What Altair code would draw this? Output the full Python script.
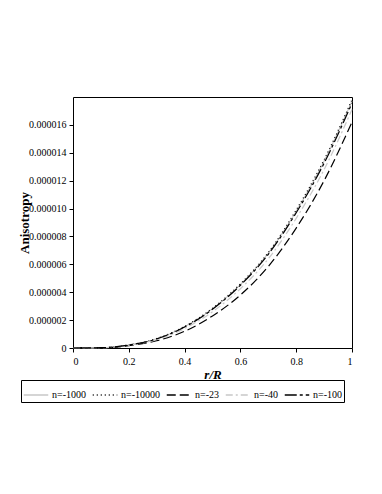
import altair as alt
import pandas as pd

r = [0.0, 0.1, 0.2, 0.3, 0.4, 0.5, 0.6, 0.7, 0.8, 0.9, 1.0]
series_names = ["n=-1000", "n=-10000", "n=-23", "n=-40", "n=-100"]
n1000 = [0, 0.02, 0.22, 0.67, 1.53, 2.82, 4.55, 6.80, 9.80, 13.40, 17.70]
n10000 = [0, 0.02, 0.22, 0.68, 1.55, 2.85, 4.60, 6.85, 9.90, 13.50, 17.80]
n23 = [0, 0.015, 0.17, 0.52, 1.20, 2.30, 3.80, 5.85, 8.60, 12.00, 16.20]
n40 = [0, 0.02, 0.20, 0.60, 1.40, 2.60, 4.25, 6.40, 9.30, 12.80, 17.10]
n100 = [0, 0.02, 0.21, 0.65, 1.50, 2.78, 4.50, 6.72, 9.70, 13.25, 17.55]

vals = {"n=-1000": n1000, "n=-10000": n10000, "n=-23": n23, "n=-40": n40, "n=-100": n100}
rows = []
for name in series_names:
    for x, v in zip(r, vals[name]):
        rows.append({"r": x, "A": v * 1e-6, "series": name})
df = pd.DataFrame(rows)

colors = ["#c8c8c8", "#000000", "#000000", "#c8c8c8", "#000000"]
dashes = [[1, 0], [1, 3], [9, 4], [7, 3, 2, 3], [12, 3, 3, 3]]

chart = alt.Chart(df).mark_line(strokeWidth=1.2, interpolate="monotone").encode(
    x=alt.X("r:Q", scale=alt.Scale(domain=[0, 1], nice=False),
            axis=alt.Axis(title="r/R", values=[0, 0.2, 0.4, 0.6, 0.8, 1],
                          labelExpr="format(datum.value, '.1~f')")),
    y=alt.Y("A:Q", scale=alt.Scale(domain=[0, 0.000018], nice=False),
            axis=alt.Axis(title="Anisotropy",
                          values=[0, 0.000002, 0.000004, 0.000006, 0.000008, 0.00001,
                                  0.000012, 0.000014, 0.000016],
                          labelExpr="datum.value == 0 ? '0' : format(datum.value, '.6f')")),
    color=alt.Color("series:N", scale=alt.Scale(domain=series_names, range=colors),
                    title=None),
    strokeDash=alt.StrokeDash("series:N", scale=alt.Scale(domain=series_names, range=dashes),
                              title=None),
    order=alt.Order("series:N"),
).properties(
    width=279, height=251,
    padding={"left": 10, "top": 89, "right": 0, "bottom": 5},
).configure_view(
    stroke="black", strokeWidth=1
).configure_axis(
    grid=False, domain=False, labelFont="Liberation Serif", labelFontSize=10,
    labelColor="black", tickColor="black", tickSize=4,
    titleFont="Liberation Serif", titleFontSize=13, titleColor="black",
).configure_axisX(
    titleFontStyle="italic", titleFontWeight="bold", titlePadding=2, labelPadding=4,
).configure_axisY(
    titleFontWeight="bold", titlePadding=-3, labelPadding=3,
).configure_legend(
    orient="none", legendX=-52, legendY=283, direction="horizontal",
    strokeColor="black", padding=2, symbolType="stroke", symbolSize=600,
    symbolStrokeWidth=1.5, labelFont="Liberation Serif", labelFontSize=10,
    labelColor="black", columnPadding=3, labelOffset=3,
)

chart.save("out.html", embed_options={"renderer": "svg", "actions": False})
